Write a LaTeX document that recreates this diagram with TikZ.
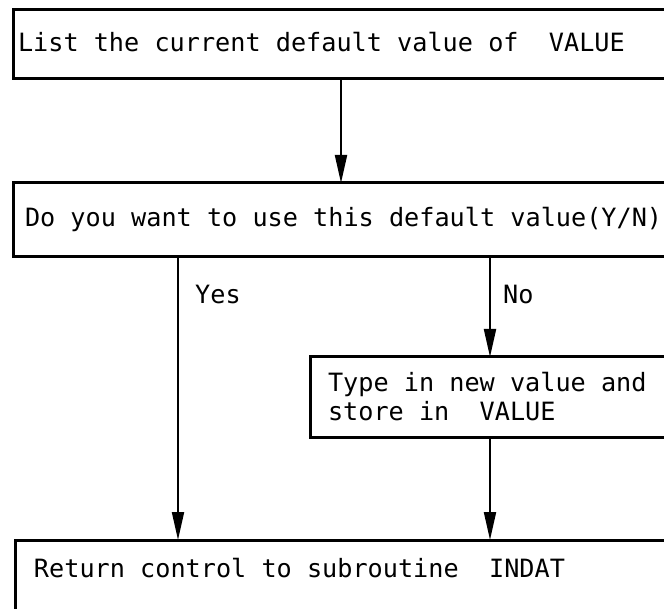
\documentclass[tikz,border=0pt]{standalone}
\usepackage{fontspec}
\setmonofont{DejaVu Sans Mono}
\usepackage{tikz}
\usetikzlibrary{arrows.meta, positioning, calc}

\newcommand\flowfont{\ttfamily\fontsize{25.2}{29}\selectfont}

\begin{document}
\begin{tikzpicture}[x=1pt, y=-1pt,
    box/.style={draw, line width=3pt, rectangle, outer sep=0pt, anchor=north west,
      align=left, text width=700pt, font=\flowfont,
      % spaces as wide as letters
      execute at begin node={\fontdimen2\font=15.17pt\fontdimen3\font=0pt
        \fontdimen4\font=0pt\spaceskip=15.17pt\relax}},
    flow/.style={line width=2pt, -{Triangle[length=28pt, width=12pt]}},
    lbl/.style={font=\flowfont, inner sep=0pt}]
  % page
  \fill[white] (0,0) rectangle (664,609);
  \useasboundingbox (0,0) rectangle (664,609);

  % columns for the connectors
  \coordinate (colA) at (178,0);
  \coordinate (colB) at (341,0);
  \coordinate (colC) at (490,0);

  % boxes
  \node[box, inner xsep=5pt, text height=19pt, text depth=5pt, minimum height=69pt]
    (list) at (13,10) {List the current default value of\ \ VALUE};
  \node[box, inner xsep=12pt, text height=19pt, text depth=5pt, minimum height=74pt]
    (ask) at (13,183) {Do you want to use this default value(Y/N)?};
  \node[box, inner xsep=18pt, minimum height=80pt]
    (newval) at (310,357) {Type in new value and\\store in\ \ VALUE};
  \node[box, inner xsep=19pt, inner ysep=18pt, text height=19pt, text depth=60pt]
    (done) at (15,540) {Return control to subroutine\ \ INDAT};

  % connectors
  \draw[flow] (list.south -| colB) -- (ask.north -| colB);
  \draw[flow] (ask.south -| colA) -- (done.north -| colA);
  \draw[flow] (ask.south -| colC) -- (newval.north -| colC);
  \draw[flow] (newval.south -| colC) -- (done.north -| colC);

  % branch labels
  \node[lbl, anchor=base west] (yes) at (195,304) {Yes};
  \node[lbl, anchor=base west] (no) at (503,304) {No};
\end{tikzpicture}
\end{document}
